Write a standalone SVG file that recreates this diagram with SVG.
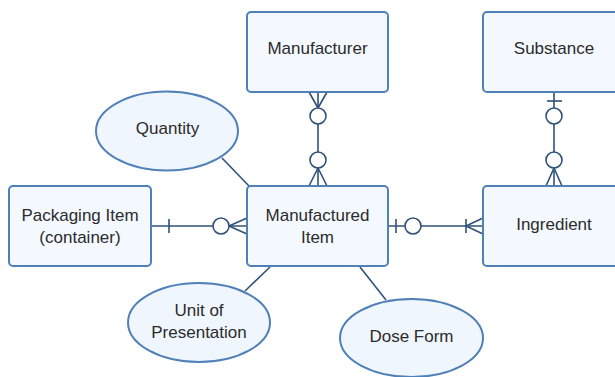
<svg xmlns="http://www.w3.org/2000/svg" width="615" height="377" viewBox="0 0 615 377">
<style>
.box{fill:#f4f9ff;stroke:#4f80b8;stroke-width:2}
.ell{fill:#f0f6fd;stroke:#4f80b8;stroke-width:2}
.t{font-family:"Liberation Sans",Arial,sans-serif;font-size:17px;fill:#2b2b2b;text-anchor:middle}
.c{fill:none;stroke:#2f5179;stroke-width:1.6}
.o{fill:#fff;stroke:#2f5179;stroke-width:1.6}
</style>
<rect width="615" height="377" fill="#fff"/>
<g id="connectors">
<line class="c" x1="222" y1="158" x2="249" y2="186"/>
<line class="c" x1="270" y1="267" x2="245" y2="291"/>
<line class="c" x1="360" y1="267" x2="386" y2="300"/>
<line class="c" x1="318" y1="92" x2="318" y2="186"/>
<path class="c" d="M309,92 L318,108 L327,92 M309,186 L318,168 L327,186"/>
<circle class="o" cx="318" cy="116" r="8"/>
<circle class="o" cx="318" cy="160" r="8"/>
<line class="c" x1="554" y1="92" x2="554" y2="186"/>
<line class="c" x1="547" y1="101" x2="562" y2="101"/>
<path class="c" d="M546,186 L554,168 L562,186"/>
<circle class="o" cx="554" cy="116" r="8"/>
<circle class="o" cx="554" cy="160" r="8"/>
<line class="c" x1="151" y1="226" x2="247" y2="226"/>
<line class="c" x1="169" y1="219" x2="169" y2="233"/>
<path class="c" d="M247,218 L229,226 L247,234"/>
<circle class="o" cx="221" cy="226" r="8"/>
<line class="c" x1="388" y1="226" x2="483" y2="226"/>
<line class="c" x1="396" y1="219" x2="396" y2="233"/>
<circle class="o" cx="413" cy="226" r="8"/>
<line class="c" x1="466" y1="219" x2="466" y2="233"/>
<path class="c" d="M483,218 L466,226 L483,234"/>
</g>
<g id="manufacturer"><rect class="box" x="247" y="12" width="141" height="80" rx="4"/><text class="t" x="317.5" y="54">Manufacturer</text></g>
<g id="substance"><rect class="box" x="483" y="12" width="142" height="80" rx="4"/><text class="t" x="554" y="54">Substance</text></g>
<g id="packaging"><rect class="box" x="9" y="186" width="142" height="80" rx="4"/><text class="t" x="80" y="220.5">Packaging Item</text><text class="t" x="80" y="242.5">(container)</text></g>
<g id="manufactured-item"><rect class="box" x="247" y="186" width="141" height="80" rx="4"/><text class="t" x="317.5" y="220.5">Manufactured</text><text class="t" x="317.5" y="242.5">Item</text></g>
<g id="ingredient"><rect class="box" x="483" y="186" width="142" height="80" rx="4"/><text class="t" x="554" y="229.5">Ingredient</text></g>
<g id="quantity"><ellipse class="ell" cx="167" cy="131" rx="71" ry="39.5"/><text class="t" x="167.5" y="134">Quantity</text></g>
<g id="unit-of-presentation"><ellipse class="ell" cx="199" cy="322.5" rx="71" ry="39.5"/><text class="t" x="199" y="316">Unit of</text><text class="t" x="199" y="338">Presentation</text></g>
<g id="dose-form"><ellipse class="ell" cx="411.5" cy="338" rx="71.5" ry="39"/><text class="t" x="411.5" y="342">Dose Form</text></g>
</svg>
